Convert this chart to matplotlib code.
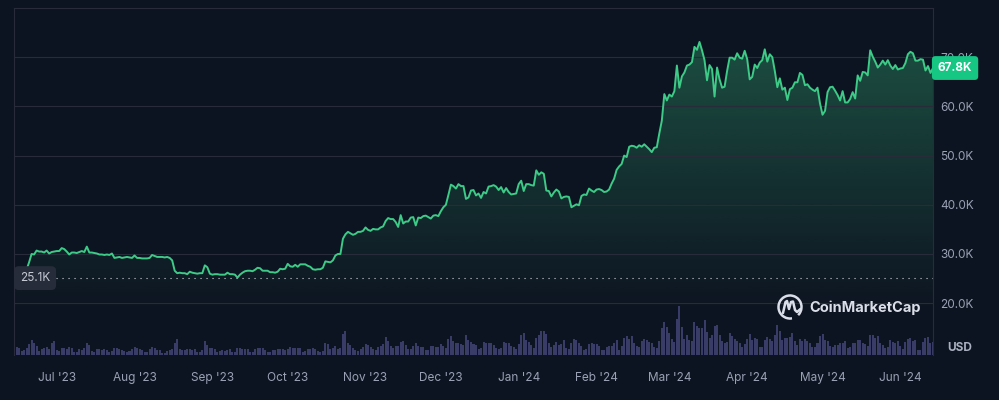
import matplotlib
matplotlib.use('Agg')
import matplotlib.pyplot as plt
import matplotlib.dates as mdates
import matplotlib.transforms as mtrans
from matplotlib.patches import Polygon, Arc
import numpy as np
import pandas as pd

plt.rcParams['font.family'] = ['Inter', 'DejaVu Sans']

# daily BTC close in thousands USD, 14 Jun 2023 .. 14 Jun 2024
start_date = '2023-06-14'
price_k = (
    [25.1, 25.6, 26.3, 26.5, 26.3, 26.8, 28.3, 30.0, 29.9, 30.7, 30.5, 30.5, 30.3, 30.7, 30.1, 30.4, 30.5]
    + [30.6, 30.6, 31.2, 31.0, 30.5, 29.9, 30.3, 30.3, 30.2, 30.4, 30.6, 30.4, 31.5, 30.3, 30.3, 30.2,
       30.1, 29.9, 29.9, 29.8, 29.9, 29.8, 30.1, 29.2, 29.3, 29.4, 29.2, 29.3, 29.4, 29.3, 29.2]
    + [29.7, 29.2, 29.2, 29.1, 29.1, 29.1, 29.2, 29.8, 29.6, 29.4, 29.4, 29.4, 29.3, 29.4, 29.2, 28.7,
       26.6, 26.1, 26.2, 26.1, 26.1, 25.9, 26.4, 26.2, 26.1, 26.0, 26.1, 26.1, 27.7, 27.3, 26.0]
    + [25.8, 25.9, 25.9, 25.8, 25.8, 25.8, 26.2, 25.9, 25.9, 25.8, 25.2, 25.8, 26.2, 26.5, 26.6,
       26.6, 26.5, 26.8, 27.2, 27.1, 26.6, 26.6, 26.6, 26.3, 26.3, 26.2, 26.4, 27.0, 26.9, 27.0]
    + [28.0, 27.5, 27.4, 27.8, 27.4, 27.9, 27.9, 27.9, 27.6, 27.4, 26.9, 26.8, 26.9, 26.9, 27.2, 28.5,
       28.4, 28.3, 28.7, 29.7, 30.0, 30.0, 33.1, 34.0, 34.5, 34.2, 33.9, 34.1, 34.5, 34.5, 34.7]
    + [35.4, 34.9, 34.7, 35.1, 35.0, 35.0, 35.4, 35.6, 36.7, 37.3, 37.1, 37.1, 36.5, 35.5, 37.9,
       36.2, 36.6, 36.6, 37.4, 37.5, 35.8, 37.4, 37.3, 37.7, 37.8, 37.5, 37.2, 37.8, 37.9, 37.7]
    + [38.7, 39.5, 40.0, 42.0, 44.1, 43.8, 43.3, 44.2, 43.8, 43.8, 41.2, 41.5, 42.9, 43.0, 41.9, 42.3,
       41.4, 42.6, 42.3, 43.7, 43.8, 44.0, 43.7, 43.0, 43.6, 42.5, 43.4, 42.6, 42.1, 42.2, 42.3]
    + [44.2, 44.9, 42.8, 44.2, 44.2, 44.0, 43.9, 47.0, 46.1, 46.6, 46.3, 42.9, 42.8, 41.7, 42.5, 43.1,
       42.7, 41.3, 41.6, 41.7, 41.6, 39.5, 39.8, 40.1, 39.9, 41.8, 42.1, 42.0, 43.3, 42.9, 42.6]
    + [43.1, 43.2, 43.0, 42.6, 42.7, 43.1, 44.3, 45.3, 47.1, 47.8, 48.3, 50.0, 49.7, 51.8, 52.0,
       51.9, 51.6, 52.1, 51.8, 52.3, 51.8, 51.3, 50.7, 51.6, 51.7, 54.5, 57.1, 62.5, 61.2]
    + [62.4, 62.0, 63.1, 68.3, 63.8, 66.1, 66.9, 68.3, 68.5, 69.0, 72.1, 71.5, 73.1, 71.4, 69.4, 65.3,
       68.4, 67.6, 62.0, 67.9, 65.5, 63.8, 64.0, 67.2, 69.9, 69.9, 69.5, 70.8, 69.9, 69.7, 71.3]
    + [69.6, 65.5, 66.0, 68.5, 67.8, 68.9, 69.4, 71.6, 69.1, 70.6, 70.0, 67.2, 63.9, 65.7, 63.4,
       63.8, 61.3, 63.5, 63.8, 64.9, 64.9, 66.8, 66.4, 64.3, 64.5, 63.8, 63.4, 63.1, 63.8, 60.6]
    + [58.3, 59.1, 62.9, 63.9, 64.0, 63.2, 62.3, 61.2, 63.1, 60.8, 60.8, 61.5, 62.9, 61.6, 66.3, 65.2,
       67.0, 66.9, 66.3, 71.4, 70.1, 69.1, 67.9, 68.5, 69.3, 68.5, 69.4, 68.3, 67.6, 68.4, 67.5]
    + [67.7, 67.8, 68.8, 70.6, 71.1, 70.8, 69.3, 69.3, 69.6, 69.5, 67.3, 68.2, 66.8, 67.8]
)

# daily volume, billions USD
volume_b = (
    [14, 16, 15, 9, 10, 14, 22, 30, 25, 18, 9, 12, 14, 16, 13, 24, 28]
    + [10, 8, 14, 15, 12, 16, 14, 7, 7, 12, 11, 14, 24, 21, 8, 7, 12, 12, 10, 13, 11, 7, 9, 15, 14,
       13, 10, 9, 7, 8, 13]
    + [17, 15, 12, 11, 6, 6, 12, 16, 15, 10, 10, 5, 5, 9, 10, 12, 25, 33, 13, 10, 10, 12, 13, 11, 12,
       6, 7, 11, 28, 20, 14]
    + [15, 12, 7, 9, 10, 9, 11, 12, 7, 7, 14, 14, 12, 13, 12, 6, 6, 13, 14, 15, 14, 10, 7, 7, 10,
       10, 12, 12, 12, 10]
    + [12, 16, 14, 14, 14, 14, 7, 8, 13, 12, 14, 13, 9, 6, 8, 24, 22, 12, 15, 19, 12, 14, 43, 48, 24,
       21, 15, 11, 9, 13, 17]
    + [23, 21, 17, 12, 11, 16, 18, 22, 36, 29, 18, 14, 18, 19, 27, 28, 20, 12, 12, 18, 25, 19, 16, 16,
       10, 10, 18, 19, 17, 16]
    + [22, 18, 15, 32, 38, 29, 24, 24, 22, 20, 40, 30, 26, 23, 21, 12, 14, 26, 25, 25, 24, 21, 15, 12,
       14, 26, 25, 24, 19, 17, 12]
    + [22, 40, 44, 30, 27, 21, 15, 35, 40, 48, 48, 42, 24, 16, 20, 26, 20, 23, 30, 14, 12, 24, 32, 30,
       25, 18, 10, 13, 23, 24, 22]
    + [23, 19, 10, 11, 16, 19, 18, 24, 30, 11, 18, 34, 38, 32, 38, 25, 18, 16, 28, 33, 30, 26, 24, 17,
       14, 29, 55, 66, 57]
    + [44, 32, 26, 72, 98, 56, 32, 40, 30, 28, 66, 58, 55, 54, 70, 46, 34, 40, 58, 61, 40, 29, 24, 26,
       44, 38, 32, 28, 24, 16, 22]
    + [32, 42, 30, 34, 33, 16, 16, 30, 36, 32, 28, 40, 60, 48, 30, 34, 34, 36, 45, 28, 21, 32, 28, 32,
       28, 24, 16, 16, 24, 38]
    + [42, 30, 28, 18, 16, 20, 20, 24, 25, 28, 14, 16, 25, 25, 30, 30, 25, 22, 18, 40, 40, 34, 38, 24,
       20, 14, 16, 30, 26, 24, 28]
    + [18, 12, 26, 32, 34, 28, 30, 10, 11, 26, 35, 36, 24, 26]
)

price_ticks = [20, 30, 40, 50, 60, 70]

BG = '#0d1421'
GREEN = '#16c784'
LINE = '#3dcb87'
GRID = '#282c3a'
TXT = '#9aa1b3'

dates = pd.date_range(start_date, periods=len(price_k), freq='D')
x = mdates.date2num(dates)
y = np.array(price_k)
ylo, yhi = 9.47, 80.0

fig = plt.figure(figsize=(9.99, 4.0), dpi=100, facecolor=BG)
rect = [14 / 999, 45 / 400, 919 / 999, 347 / 400]

# volume bars underneath
vax = fig.add_axes(rect, zorder=1)
vax.set_facecolor(BG)
vax.bar(x, volume_b, width=0.8, color='#383c66', linewidth=0)
vax.set_xlim(x[0], x[-1])
vax.set_ylim(0, 694)
vax.axis('off')

ax = fig.add_axes(rect, zorder=2)
ax.patch.set_alpha(0)

# gradient area under the price line
n = 256
yy = np.linspace(ylo, yhi, n)
img = np.zeros((n, 1, 4))
img[..., :3] = matplotlib.colors.to_rgb(LINE)
img[:, 0, 3] = np.clip((yy - 18) / (75 - 18), 0, 1) * 0.33
im = ax.imshow(img, origin='lower', extent=[x[0], x[-1], ylo, yhi], aspect='auto',
               interpolation='bilinear', zorder=1)
clip = Polygon(np.vstack([[x[0], ylo], np.column_stack([x, y]), [x[-1], ylo]]),
               facecolor='none', edgecolor='none')
ax.add_patch(clip)
im.set_clip_path(clip)

ax.plot(x, y, color=LINE, lw=1.4, zorder=4, solid_joinstyle='round')
ax.axhline(y[0], color='#d0d4dc', lw=0.8, ls=(0, (1, 4.4)), zorder=3)

ax.set_xlim(x[0], x[-1])
ax.set_ylim(ylo, yhi)

ax.set_yticks(price_ticks)
ax.set_yticklabels([f'{v:.1f}K' for v in price_ticks])
ax.yaxis.tick_right()
ax.tick_params(axis='y', length=0, pad=5, labelcolor=TXT, labelsize=8.5)
ax.grid(axis='y', color=GRID, lw=0.8)

ax.xaxis.set_major_locator(mdates.MonthLocator())
ax.xaxis.set_major_formatter(mdates.DateFormatter("%b '%y"))
ax.tick_params(axis='x', length=0, pad=12, labelcolor=TXT, labelsize=8.5)

for side in ['left', 'right', 'top']:
    ax.spines[side].set_color(GRID)
    ax.spines[side].set_linewidth(0.8)
ax.spines['bottom'].set_visible(False)

tr = mtrans.blended_transform_factory(ax.transAxes, ax.transData)
ax.text(0.0229, y[0], f'{y[0]:.1f}K', transform=tr, ha='center', va='center',
        fontsize=8.5, color='#c4c9d4', zorder=6,
        bbox=dict(boxstyle='round,pad=0.5,rounding_size=0.4', fc='#272c3a', ec='none'))
ax.text(1.024, y[-1], f'{y[-1]:.1f}K', transform=tr, ha='center', va='center',
        fontsize=8.5, color='white', fontweight='bold', zorder=6,
        bbox=dict(boxstyle='round,pad=0.5,rounding_size=0.3', fc=GREEN, ec='none'))

# watermark and unit label in pixel coordinates
oax = fig.add_axes([0, 0, 1, 1], zorder=5)
oax.set_xlim(0, 999)
oax.set_ylim(400, 0)
oax.axis('off')
logo = '#d9dee8'
oax.add_patch(Arc((790, 307), 23, 23, theta1=80, theta2=405, color=logo, lw=1.8))
oax.plot([783, 785.5, 787, 789, 791, 793, 795, 797, 800.5],
         [313, 302, 301, 309, 302, 301.5, 310, 312, 309], color=logo, lw=1.8,
         solid_capstyle='round', solid_joinstyle='round')
oax.text(809, 308, 'CoinMarketCap', ha='left', va='center', fontsize=10.5,
         fontweight='bold', color=logo)
oax.text(947, 348, 'USD', ha='left', va='center', fontsize=8.5, fontweight='bold',
         color='#aab0c0')

fig.savefig('out.png', dpi=100, facecolor=BG)
